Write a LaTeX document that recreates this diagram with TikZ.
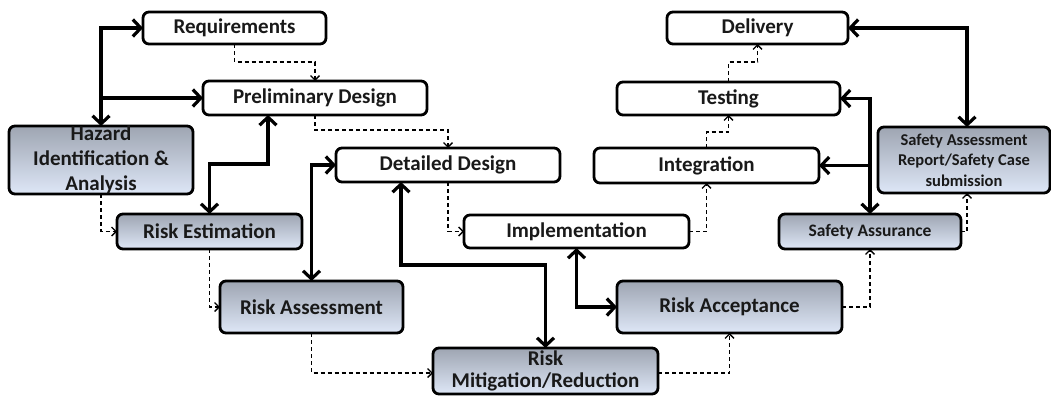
\documentclass[tikz,border=0pt]{standalone}
\usepackage{fontspec}
\setmainfont{Carlito}
\usetikzlibrary{arrows.meta}
\definecolor{shTop}{RGB}{158,165,178}
\definecolor{shMid}{RGB}{200,212,232}
\definecolor{shBot}{RGB}{222,231,247}
\definecolor{txt}{RGB}{25,25,25}
\tikzset{
  box/.style={draw=black, line width=2.8pt, rounded corners=6pt, fill=white,
    text=txt, font=\bfseries\fontsize{21}{25}\selectfont, align=center,
    inner sep=0pt, outer sep=0pt},
  riskbox/.style={box, top color=shTop, middle color=shMid, bottom color=shBot},
  flow/.style={line width=3.4pt, draw=black,
    arrows={Straight Barb[length=8pt,width=17pt,line width=3.2pt]-Straight Barb[length=8pt,width=17pt,line width=3.2pt]}},
  flowto/.style={line width=3.4pt, draw=black,
    arrows={-Straight Barb[length=8pt,width=17pt,line width=3.2pt]}},
  seq/.style={line width=1.4pt, draw=black, dash pattern=on 4pt off 3pt,
    arrows={-Straight Barb[length=4.5pt,width=9pt,line width=1.3pt]}}
}
\begin{document}
\begin{tikzpicture}[x=1pt,y=-1pt]
\useasboundingbox[fill=white] (0,0) rectangle (1051,399);

% development life cycle
\node[box, minimum width=183pt, minimum height=32pt] (req) at (234.5,28) {Requirements};
\node[box, minimum width=224pt, minimum height=34pt] (pd) at (315,98) {Preliminary Design};
\node[box, minimum width=224pt, minimum height=34pt] (dd) at (448,165) {Detailed Design};
\node[box, minimum width=225pt, minimum height=33pt] (impl) at (576.5,231.5) {Implementation};
\node[box, minimum width=225pt, minimum height=35pt] (integ) at (706.5,165.5) {Integration};
\node[box, minimum width=223pt, minimum height=33pt] (test) at (728.5,98.5) {Testing};
\node[box, minimum width=181pt, minimum height=32pt] (del) at (757.5,28) {Delivery};

% safety activities
\node[riskbox, minimum width=184pt, minimum height=67pt,
  font=\bfseries\fontsize{21}{25}\selectfont] (haz) at (101,160) {Hazard\\Identification \&\\Analysis};
\node[riskbox, minimum width=185pt, minimum height=35pt] (re) at (209.5,231.5) {Risk Estimation};
\node[riskbox, minimum width=183pt, minimum height=52pt] (ra) at (311.5,307) {Risk Assessment};
\node[riskbox, minimum width=225pt, minimum height=46pt,
  font=\bfseries\fontsize{21}{21.5}\selectfont] (rm) at (545.5,371) {Risk\\Mitigation/Reduction};
\node[riskbox, minimum width=225pt, minimum height=52pt] (racc) at (729.5,307) {Risk Acceptance};
\node[riskbox, minimum width=182pt, minimum height=35pt,
  font=\bfseries\fontsize{17.5}{20}\selectfont] (sa) at (870,231.5) {Safety Assurance};
\node[riskbox, minimum width=172pt, minimum height=66pt,
  font=\bfseries\fontsize{16.5}{20.5}\selectfont] (sar) at (964,160) {Safety Assessment\\Report/Safety Case\\submission};

% two-way links between life cycle and safety activities
\draw[flow] (req.west) -| (haz.north);
\draw[flowto] (haz.north |- pd.west) -- (pd.west);
\draw[flow] ([xshift=-47pt]pd.south) -- ++(0,49) -| (re.north);
\draw[flow] (dd.west) -| (ra.north);
\draw[flow] ([xshift=-47pt]dd.south) -- ++(0,83) -| (rm.north);
\draw[flow] (impl.south) |- (racc.west);
\draw[flow] (del.east) -| ([xshift=3pt]sar.north);
\draw[flow] (test.east) -| (sa.north);
\draw[flowto] (sa.north |- integ.east) -- (integ.east);

% sequence of phases
\draw[seq] (req.south) -- ++(0,18) -| (pd.north);
\draw[seq] (pd.south) -- ++(0,15) -| (dd.north);
\draw[seq] (dd.south) |- (impl.west);
\draw[seq] (impl.east) -| (integ.south);
\draw[seq] (integ.north) -- ++(0,-16) -| (test.south);
\draw[seq] (test.north) -- ++(0,-20) -| (del.south);
\draw[seq] (haz.south) |- (re.west);
\draw[seq] (re.south) |- (ra.west);
\draw[seq] (ra.south) |- ([yshift=-2pt]rm.west);
\draw[seq] ([yshift=-2pt]rm.east) -| (racc.south);
\draw[seq] (racc.east) -| (sa.south);
\draw[seq] (sa.east) -| ([xshift=3pt]sar.south);
\end{tikzpicture}
\end{document}
